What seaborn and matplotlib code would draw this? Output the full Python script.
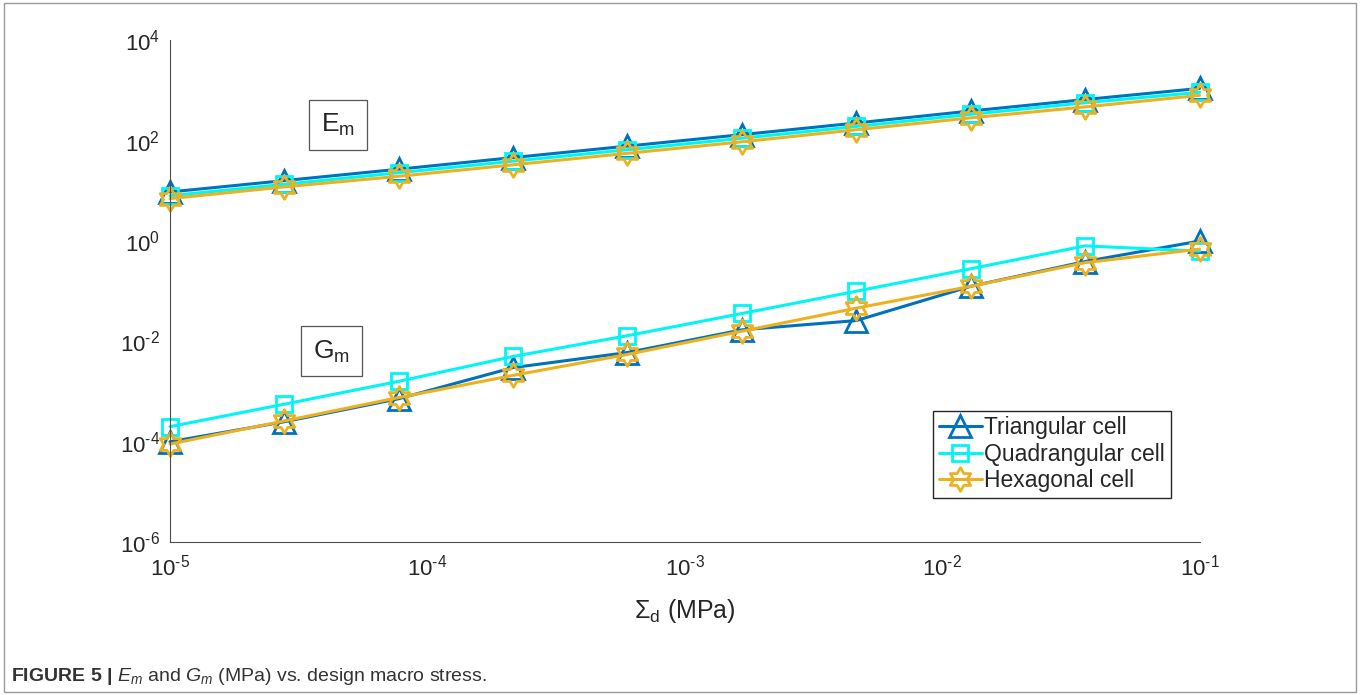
import numpy as np
import pandas as pd
import matplotlib
matplotlib.use('Agg')
import matplotlib.pyplot as plt
import matplotlib.ticker as mticker
from matplotlib.path import Path
from matplotlib.patches import Rectangle
import seaborn as sns

# data area
stress = [1.0e-5, 2.78e-5, 7.74e-5, 2.15e-4, 5.99e-4, 1.67e-3, 4.64e-3, 1.29e-2, 3.59e-2, 1.0e-1]

em_tri = [9.5, 16, 27, 46, 78, 132, 225, 390, 660, 1100]
em_quad = [8.0, 13.5, 23, 39, 66, 112, 192, 335, 570, 920]
em_hex = [7.0, 12.0, 19.5, 33, 56, 95, 165, 285, 470, 800]

gm_tri = [1.0e-4, 2.5e-4, 7.2e-4, 3.0e-3, 6.0e-3, 1.7e-2, 2.6e-2, 1.25e-1, 3.9e-1, 1.0]
gm_quad = [2.0e-4, 5.6e-4, 1.6e-3, 5.0e-3, 1.3e-2, 3.6e-2, 1.0e-1, 2.8e-1, 8.0e-1, 6.3e-1]
gm_hex = [9.0e-5, 2.6e-4, 7.6e-4, 2.1e-3, 5.5e-3, 1.6e-2, 4.6e-2, 1.25e-1, 3.7e-1, 6.9e-1]

cells = ['Triangular cell', 'Quadrangular cell', 'Hexagonal cell']
colors = {'Triangular cell': '#0072BD', 'Quadrangular cell': '#00F5F5', 'Hexagonal cell': '#EDB120'}

# hexagram marker (six pointed star, point up)
ang = np.pi / 2 + np.arange(12) * np.pi / 6
rad = np.where(np.arange(12) % 2 == 0, 1.0, 1 / np.sqrt(3))
verts = np.column_stack([rad * np.cos(ang), rad * np.sin(ang)])
verts = np.vstack([verts, verts[0]])
hexagram = Path(verts, [Path.MOVETO] + [Path.LINETO] * 11 + [Path.CLOSEPOLY])

markers = {'Triangular cell': '^', 'Quadrangular cell': 's', 'Hexagonal cell': hexagram}
msizes = {'Triangular cell': 16, 'Quadrangular cell': 12, 'Hexagonal cell': 17}

data = pd.DataFrame({
    'stress': stress * 6,
    'value': em_tri + em_quad + em_hex + gm_tri + gm_quad + gm_hex,
    'cell': [c for c in cells for _ in stress] * 2,
    'modulus': ['Em'] * 30 + ['Gm'] * 30,
})

sns.set_style('white')
plt.rcParams['font.family'] = ['Liberation Sans', 'DejaVu Sans']
plt.rcParams['axes.unicode_minus'] = False
plt.rcParams['mathtext.fontset'] = 'custom'
plt.rcParams['mathtext.rm'] = 'Liberation Sans'
plt.rcParams['mathtext.it'] = 'Liberation Sans:italic'
plt.rcParams['mathtext.bf'] = 'Liberation Sans:bold'

fig = plt.figure(figsize=(13.6, 6.95), dpi=100)
ax = fig.add_axes([0.125, 0.22, 0.757, 0.722])

for mod in ['Em', 'Gm']:
    for c in cells:
        sub = data[(data['modulus'] == mod) & (data['cell'] == c)]
        sns.lineplot(data=sub, x='stress', y='value', ax=ax, color=colors[c],
                     marker=markers[c], markersize=msizes[c], markerfacecolor='none',
                     markeredgecolor=colors[c], markeredgewidth=2.0, linewidth=2.2,
                     label=c if mod == 'Em' else None, legend=False, clip_on=False)

ax.set_xscale('log')
ax.set_yscale('log')
ax.set_xlim(1e-5, 1e-1)
ax.set_ylim(1e-6, 1e4)


def pow_label(v, pos):
    e = int(round(np.log10(v)))
    if e < 0:
        return r'$\mathregular{10^{\text{-}%d}}$' % (-e)
    return r'$\mathregular{10^{%d}}$' % e


ax.xaxis.set_major_locator(mticker.LogLocator(base=10, numticks=20))
ax.xaxis.set_minor_locator(mticker.LogLocator(base=10, subs=np.arange(2, 10), numticks=100))
ax.yaxis.set_major_locator(mticker.FixedLocator([1e-6, 1e-4, 1e-2, 1e0, 1e2, 1e4]))
ymin = [s * 10.0 ** d for d in range(-6, 4) for s in range(1, 10) if not (s == 1 and d % 2 == 0)]
ax.yaxis.set_minor_locator(mticker.FixedLocator(ymin))
ax.xaxis.set_major_formatter(mticker.FuncFormatter(pow_label))
ax.yaxis.set_major_formatter(mticker.FuncFormatter(pow_label))
ax.yaxis.set_minor_formatter(mticker.NullFormatter())
ax.xaxis.set_minor_formatter(mticker.NullFormatter())

ax.tick_params(which='both', direction='in', color='#4d4d4d', labelcolor='#262626')
ax.tick_params(which='major', length=7, width=0.8, labelsize=16)
ax.tick_params(axis='x', which='major', pad=9)
ax.tick_params(axis='y', which='major', pad=7)
ax.tick_params(which='minor', length=4, width=0.6)
for side in ['top', 'right']:
    ax.spines[side].set_visible(False)
for side in ['left', 'bottom']:
    ax.spines[side].set_color('#4d4d4d')
    ax.spines[side].set_linewidth(0.8)

ax.set_xlabel(r'$\mathregular{\Sigma_d}$ (MPa)', fontsize=18, color='#262626', labelpad=12)
ax.set_ylabel('')

box = dict(boxstyle='square,pad=0.45', facecolor='white', edgecolor='#555555', linewidth=0.9)
ax.text(0.163, 0.832, r'$\mathregular{E_m}$', transform=ax.transAxes, fontsize=19,
        ha='center', va='center', bbox=box)
ax.text(0.157, 0.38, r'$\mathregular{G_m}$', transform=ax.transAxes, fontsize=19,
        ha='center', va='center', bbox=box)

leg = ax.legend(loc='lower left', bbox_to_anchor=(0.741, 0.088), fontsize=16.5,
                frameon=True, fancybox=False, framealpha=1, edgecolor='#262626',
                handlelength=1.9, handletextpad=0.1, borderpad=0.25, labelspacing=0.15,
                borderaxespad=0)
leg.get_frame().set_linewidth(1.0)

fig.patches.append(Rectangle((0.003, 0.004), 0.994, 0.992, transform=fig.transFigure,
                             fill=False, edgecolor='#9a9a9a', linewidth=1.0))
fig.text(0.008, 0.012,
         r'$\mathbf{FIGURE\ 5\ |}$ $\mathit{E_m}$ and $\mathit{G_m}$ (MPa) vs. design macro stress.',
         fontsize=14, color='#333333', ha='left', va='bottom')

plt.savefig('out.png', dpi=100)
